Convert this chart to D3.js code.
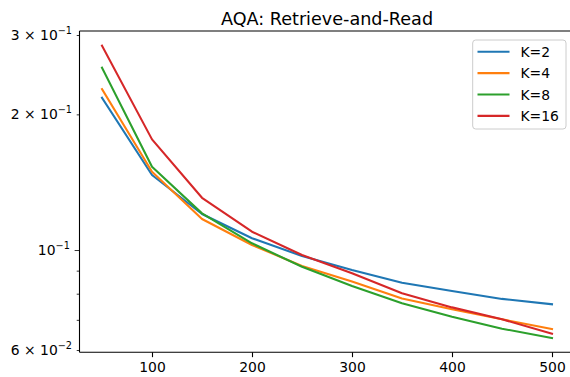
<!DOCTYPE html>
<html>
<head>
<meta charset="utf-8">
<script src="https://cdn.jsdelivr.net/npm/d3@7"></script>
<style>
  body { margin: 0; background: #fff; }
  svg { display: block; font-family: "DejaVu Sans", sans-serif; }
</style>
</head>
<body>
<svg id="chart" width="570" height="377"></svg>
<script>
// x positions (number of retrieved items)
const xValues = [50, 100, 150, 200, 250, 300, 350, 400, 450, 500];

// series values
const seriesNames = ['K=2', 'K=4', 'K=8', 'K=16'];
const k2Values  = [0.2177, 0.1467, 0.1202, 0.1062, 0.0970, 0.0903, 0.0846, 0.0811, 0.0779, 0.0758];
const k4Values  = [0.2276, 0.1492, 0.1172, 0.1026, 0.0922, 0.0851, 0.0781, 0.0739, 0.0702, 0.0668];
const k8Values  = [0.2538, 0.1530, 0.1206, 0.1035, 0.0918, 0.0832, 0.0762, 0.0711, 0.0669, 0.0638];
const k16Values = [0.2840, 0.1760, 0.1306, 0.1098, 0.0975, 0.0888, 0.0802, 0.0746, 0.0702, 0.0652];
const seriesColors = ['#1f77b4', '#ff7f0e', '#2ca02c', '#d62728'];

// axis ticks
const xTicks = [100, 200, 300, 400, 500];
const yMajorTicks = [0.1];
const yMinorTicks = [0.06, 0.07, 0.08, 0.09, 0.2, 0.3];
const yTickLabels = [
  { value: 0.3, mant: '3 \u00d7 10', exp: '\u22121', major: false },
  { value: 0.2, mant: '2 \u00d7 10', exp: '\u22121', major: false },
  { value: 0.1, mant: '10', exp: '\u22121', major: true },
  { value: 0.06, mant: '6 \u00d7 10', exp: '\u22122', major: false }
];

const svg = d3.select('#chart');
const margin = { top: 31, left: 79.5, right: 574.5, bottom: 352.3 };

const xScale = d3.scaleLinear()
  .domain([27.5, 522.5])
  .range([margin.left, margin.right]);

const yScale = d3.scaleLog()
  .domain([0.0593, 0.3062])
  .range([margin.bottom, margin.top]);

const series = [k2Values, k4Values, k8Values, k16Values].map((vals, i) => ({
  name: seriesNames[i],
  color: seriesColors[i],
  points: vals.map((v, j) => ({ x: xValues[j], y: v }))
}));

const line = d3.line()
  .x(d => xScale(d.x))
  .y(d => yScale(d.y));

// Lines
series.forEach(s => {
  svg.append('path')
    .datum(s.points)
    .attr('fill', 'none')
    .attr('stroke', s.color)
    .attr('stroke-width', 2.08)
    .attr('stroke-linecap', 'square')
    .attr('stroke-linejoin', 'round')
    .attr('d', line);
});

// X axis
const xAxis = d3.axisBottom(xScale)
  .tickValues(xTicks)
  .tickSize(4.86)
  .tickPadding(4.86)
  .tickSizeOuter(0);

const gx = svg.append('g')
  .attr('transform', `translate(0,${margin.bottom})`)
  .call(xAxis);
gx.select('.domain').remove();
gx.selectAll('.tick line').attr('stroke', '#000').attr('stroke-width', 1.1);
gx.selectAll('.tick text')
  .attr('fill', '#000')
  .style('font-family', '"DejaVu Sans", sans-serif')
  .style('font-size', '13.9px');

// Y axis: major and minor tick marks
const gyMajor = svg.append('g')
  .attr('transform', `translate(${margin.left},0)`)
  .call(d3.axisLeft(yScale).tickValues(yMajorTicks).tickSize(4.86).tickFormat(''));
const gyMinor = svg.append('g')
  .attr('transform', `translate(${margin.left},0)`)
  .call(d3.axisLeft(yScale).tickValues(yMinorTicks).tickSize(2.78).tickFormat(''));
[gyMajor, gyMinor].forEach(g => {
  g.select('.domain').remove();
  g.selectAll('.tick line').attr('stroke', '#000').attr('stroke-width', 0.8);
});

// Y tick labels in mathtext style
yTickLabels.forEach(t => {
  const xr = margin.left - (t.major ? 9.7 : 7.5);
  const txt = svg.append('text')
    .attr('x', xr)
    .attr('y', yScale(t.value) + 5)
    .attr('text-anchor', 'end')
    .attr('fill', '#000')
    .style('font-size', '13.9px');
  txt.append('tspan').text(t.mant);
  txt.append('tspan')
    .attr('dy', -6)
    .style('font-size', '9.7px')
    .text(t.exp);
});

// Spines
svg.append('line')
  .attr('x1', margin.left).attr('x2', margin.left)
  .attr('y1', margin.top).attr('y2', margin.bottom)
  .attr('stroke', '#000').attr('stroke-width', 1.1);
svg.append('line')
  .attr('x1', margin.left).attr('x2', margin.right)
  .attr('y1', margin.bottom).attr('y2', margin.bottom)
  .attr('stroke', '#000').attr('stroke-width', 1.1);
svg.append('line')
  .attr('x1', margin.left).attr('x2', margin.right)
  .attr('y1', margin.top).attr('y2', margin.top)
  .attr('stroke', '#000').attr('stroke-width', 1.1);
svg.append('line')
  .attr('x1', margin.right).attr('x2', margin.right)
  .attr('y1', margin.top).attr('y2', margin.bottom)
  .attr('stroke', '#000').attr('stroke-width', 1.1);

// Title
svg.append('text')
  .attr('x', (margin.left + margin.right) / 2)
  .attr('y', 25)
  .attr('text-anchor', 'middle')
  .attr('fill', '#000')
  .style('font-size', '17.6px')
  .text('AQA: Retrieve-and-Read');

// Legend
const legend = svg.append('g');
legend.append('rect')
  .attr('x', 472.7).attr('y', 40)
  .attr('width', 93.3).attr('height', 89)
  .attr('rx', 3)
  .attr('fill', '#fff').attr('fill-opacity', 0.8)
  .attr('stroke', '#cccccc').attr('stroke-width', 1);

series.forEach((s, i) => {
  const yRow = 51.7 + i * 21.4;
  legend.append('line')
    .attr('x1', 477.5).attr('x2', 509.5)
    .attr('y1', yRow).attr('y2', yRow)
    .attr('stroke', s.color).attr('stroke-width', 2.08);
  legend.append('text')
    .attr('x', 520.5)
    .attr('y', yRow + 5)
    .attr('fill', '#000')
    .style('font-size', '13.9px')
    .text(s.name);
});
</script>
</body>
</html>
